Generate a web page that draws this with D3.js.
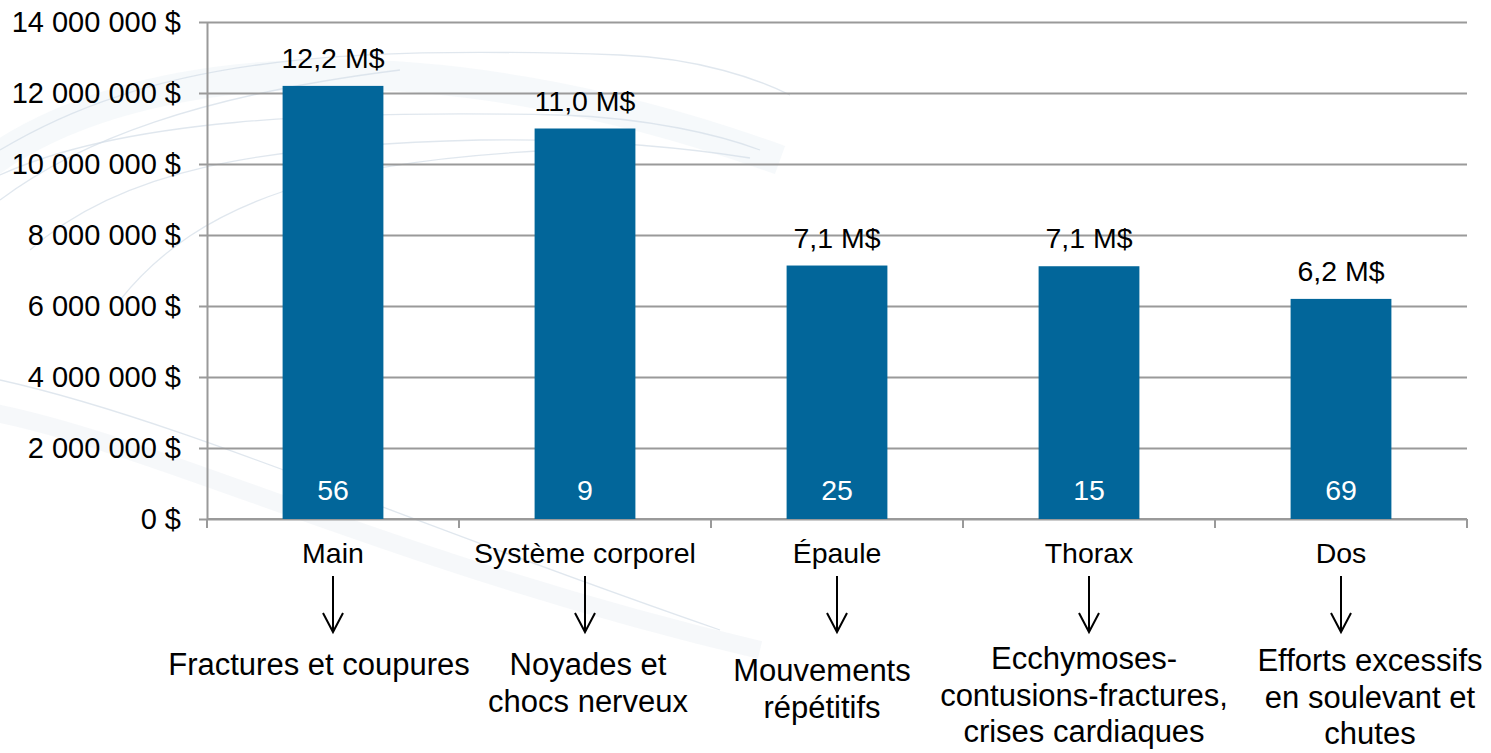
<!DOCTYPE html>
<html>
<head>
<meta charset="utf-8">
<script src="https://cdn.jsdelivr.net/npm/d3@7/dist/d3.min.js"></script>
<style>
  body { margin: 0; background: #fff; }
  text { font-family: "Liberation Sans", Arial, sans-serif; fill: #000; }
</style>
</head>
<body>
<div id="chart"></div>
<script>
// chart data
const categories = ["Main", "Système corporel", "Épaule", "Thorax", "Dos"];
const costs = [12200000, 11000000, 7140000, 7120000, 6200000];
const counts = [56, 9, 25, 15, 69];
const causes = [
  ["Fractures et coupures"],
  ["Noyades et", "chocs nerveux"],
  ["Mouvements", "répétitifs"],
  ["Ecchymoses-", "contusions-fractures,", "crises cardiaques"],
  ["Efforts excessifs", "en soulevant et", "chutes"]
];
const yTicks = [0, 2000000, 4000000, 6000000, 8000000, 10000000, 12000000, 14000000];

// small layout nudges for the cause text boxes (dx, dy)
const causeNudge = [[-14, 0], [3, 0], [-15, 6], [-5, -6], [29, -4]];

const W = 1491, H = 753;
const margin = {top: 22, right: 24, bottom: 234, left: 207};

const svg = d3.select("#chart").append("svg")
    .attr("width", W)
    .attr("height", H);

// faint background swooshes
const deco = svg.append("g").attr("fill", "none");
deco.append("path")
    .attr("d", "M-20,410 C150,440 380,560 760,650")
    .attr("stroke", "#eef2f6").attr("stroke-width", 18).attr("opacity", 0.55);
deco.append("path")
    .attr("d", "M-20,170 C120,60 420,30 780,160")
    .attr("stroke", "#eef3f7").attr("stroke-width", 30).attr("opacity", 0.5);
[
  "M0,150 C150,60 330,45 620,55 C700,58 760,80 790,95",
  "M0,175 C120,120 320,110 560,115 C650,118 720,135 760,150",
  "M30,250 C120,170 260,145 480,140 C600,138 700,150 750,158",
  "M120,300 C200,200 330,160 560,150",
  "M0,380 C180,420 400,520 720,630",
  "M0,200 C80,140 200,95 400,70"
].forEach(d => {
  deco.append("path").attr("d", d)
      .attr("stroke", "#d3dde7").attr("stroke-width", 1.3).attr("opacity", 0.7);
});

const x = d3.scaleBand()
    .domain(categories)
    .range([margin.left, W - margin.right])
    .padding(0);

const y = d3.scaleLinear()
    .domain([0, 14000000])
    .range([H - margin.bottom, margin.top]);

const fmtTick = d => d3.format(",")(d).replace(/,/g, " ") + " $";
const fmtM = d => (d / 1e6).toFixed(1).replace(".", ",") + " M$";

// gridlines + y axis
const yAxis = svg.append("g")
    .attr("transform", "translate(" + margin.left + ",0)")
    .call(d3.axisLeft(y).tickValues(yTicks).tickFormat(fmtTick)
      .tickSize(-(W - margin.right - margin.left)).tickSizeOuter(0));
yAxis.select(".domain").attr("stroke", "#9a9a9a").attr("stroke-width", 2);
yAxis.selectAll(".tick line")
    .attr("stroke", "#9a9a9a").attr("stroke-width", 2)
    .attr("x1", -8);
yAxis.selectAll(".tick text")
    .attr("x", -26)
    .style("font-size", "29px")
    .style("font-family", "'Liberation Sans', Arial, sans-serif")
    .attr("fill", "#000");

// x axis with ticks at band edges
const x0 = y(0);
svg.append("line")
    .attr("x1", margin.left).attr("x2", W - margin.right)
    .attr("y1", x0).attr("y2", x0)
    .attr("stroke", "#9a9a9a").attr("stroke-width", 2);
const edges = categories.map(c => x(c)).concat([W - margin.right]);
svg.selectAll(".xtick")
    .data(edges)
    .enter().append("line")
    .attr("class", "xtick")
    .attr("x1", d => d).attr("x2", d => d)
    .attr("y1", x0).attr("y2", x0 + 9)
    .attr("stroke", "#9a9a9a").attr("stroke-width", 2);

// bars
const barW = x.bandwidth() * 0.4;
const cx = c => x(c) + x.bandwidth() / 2;

svg.selectAll(".bar")
    .data(categories)
    .enter().append("rect")
    .attr("class", "bar")
    .attr("x", c => cx(c) - barW / 2)
    .attr("width", barW)
    .attr("y", (c, i) => y(costs[i]))
    .attr("height", (c, i) => y(0) - y(costs[i]))
    .attr("fill", "#02669a");

// value labels on top
svg.selectAll(".vlabel")
    .data(categories)
    .enter().append("text")
    .attr("x", cx)
    .attr("y", (c, i) => y(costs[i]) - 18)
    .attr("text-anchor", "middle")
    .style("font-size", "28.5px")
    .text((c, i) => fmtM(costs[i]));

// counts inside bars
svg.selectAll(".clabel")
    .data(categories)
    .enter().append("text")
    .attr("x", cx)
    .attr("y", x0 - 19)
    .attr("text-anchor", "middle")
    .style("font-size", "28.5px")
    .style("fill", "#fff")
    .text((c, i) => counts[i]);

// category names
svg.selectAll(".cat")
    .data(categories)
    .enter().append("text")
    .attr("x", cx)
    .attr("y", 563)
    .attr("text-anchor", "middle")
    .style("font-size", "28.5px")
    .text(c => c);

// arrows
const arrows = svg.selectAll(".arrow")
    .data(categories)
    .enter().append("g")
    .attr("transform", c => "translate(" + cx(c) + ",0)")
    .attr("fill", "none")
    .attr("stroke", "#000")
    .attr("stroke-width", 2);
arrows.append("line").attr("x1", 0).attr("x2", 0).attr("y1", 576).attr("y2", 631);
arrows.append("polyline").attr("points", "-10,613 0,632 10,613");

// cause descriptions
categories.forEach((c, i) => {
  const t = svg.append("text")
      .attr("text-anchor", "middle")
      .style("font-size", "31px");
  causes[i].forEach((line, j) => {
    t.append("tspan")
        .attr("x", cx(c) + causeNudge[i][0])
        .attr("y", 675 + causeNudge[i][1] + j * 36.5)
        .text(line);
  });
});
</script>
</body>
</html>
